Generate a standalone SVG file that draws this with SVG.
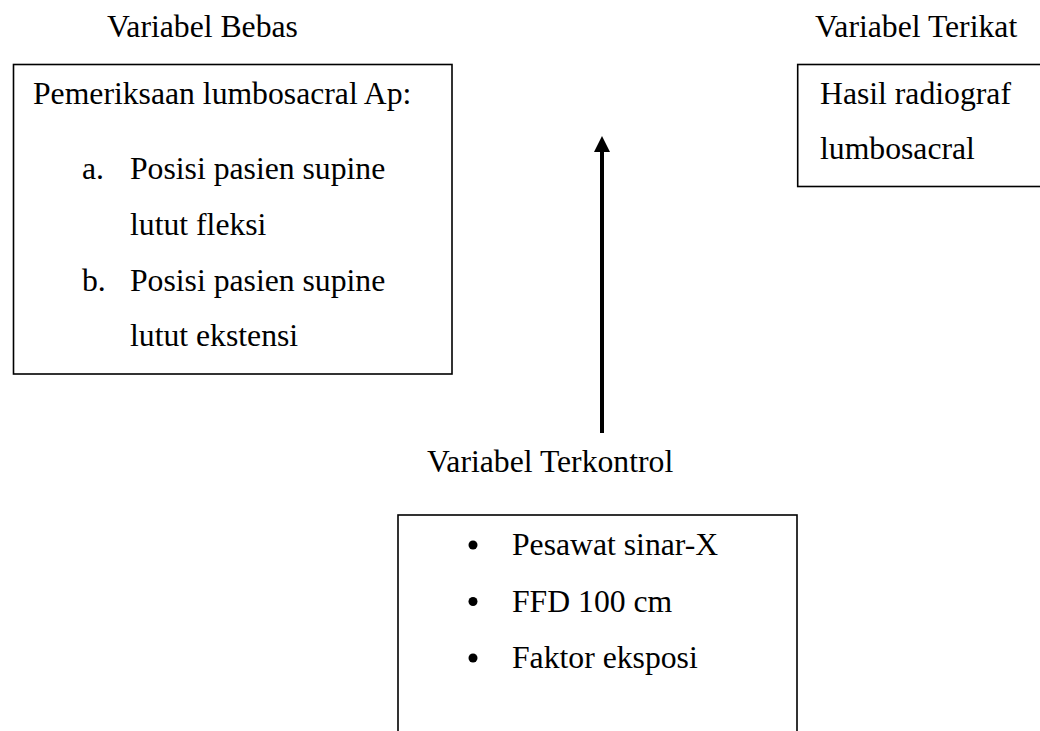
<svg xmlns="http://www.w3.org/2000/svg" width="1040" height="731" viewBox="0 0 1040 731">
<style>
text{font-family:"Liberation Serif","Times New Roman",serif;font-size:31.7px;fill:#000}
.box{fill:#fff;stroke:#000;stroke-width:1.6}
</style>
<defs>
<marker id="ah" markerWidth="4" markerHeight="4" refX="0" refY="2" orient="auto" markerUnits="strokeWidth">
<path d="M0,0 L4,2 L0,4 Z" fill="#000"/>
</marker>
</defs>
<rect width="1040" height="731" fill="#fff"/>
<text x="107" y="37">Variabel Bebas</text>
<text x="815" y="37">Variabel Terikat</text>
<text x="427" y="472">Variabel Terkontrol</text>
<g id="bebas">
<rect class="box" x="13.5" y="64.5" width="438.5" height="309.5"/>
<text x="33" y="104">Pemeriksaan lumbosacral Ap:</text>
<text x="82" y="179">a.</text>
<text x="130" y="179">Posisi pasien supine</text>
<text x="130" y="235">lutut fleksi</text>
<text x="82" y="291">b.</text>
<text x="130" y="291">Posisi pasien supine</text>
<text x="130" y="346">lutut ekstensi</text>
</g>
<g id="terikat">
<rect class="box" x="797.7" y="64.5" width="260" height="122"/>
<text x="820" y="104">Hasil radiograf</text>
<text x="820" y="159">lumbosacral</text>
</g>
<g id="terkontrol">
<rect class="box" x="398" y="515" width="399" height="240"/>
<circle cx="473" cy="545" r="4.5"/>
<circle cx="473" cy="601.5" r="4.5"/>
<circle cx="473" cy="658" r="4.5"/>
<text x="512" y="555">Pesawat sinar-X</text>
<text x="512" y="611.5">FFD 100 cm</text>
<text x="512" y="668">Faktor eksposi</text>
</g>
<g id="connectors">
<line x1="602" y1="433" x2="602" y2="152" stroke="#000" stroke-width="4" marker-end="url(#ah)"/>
</g>
</svg>
